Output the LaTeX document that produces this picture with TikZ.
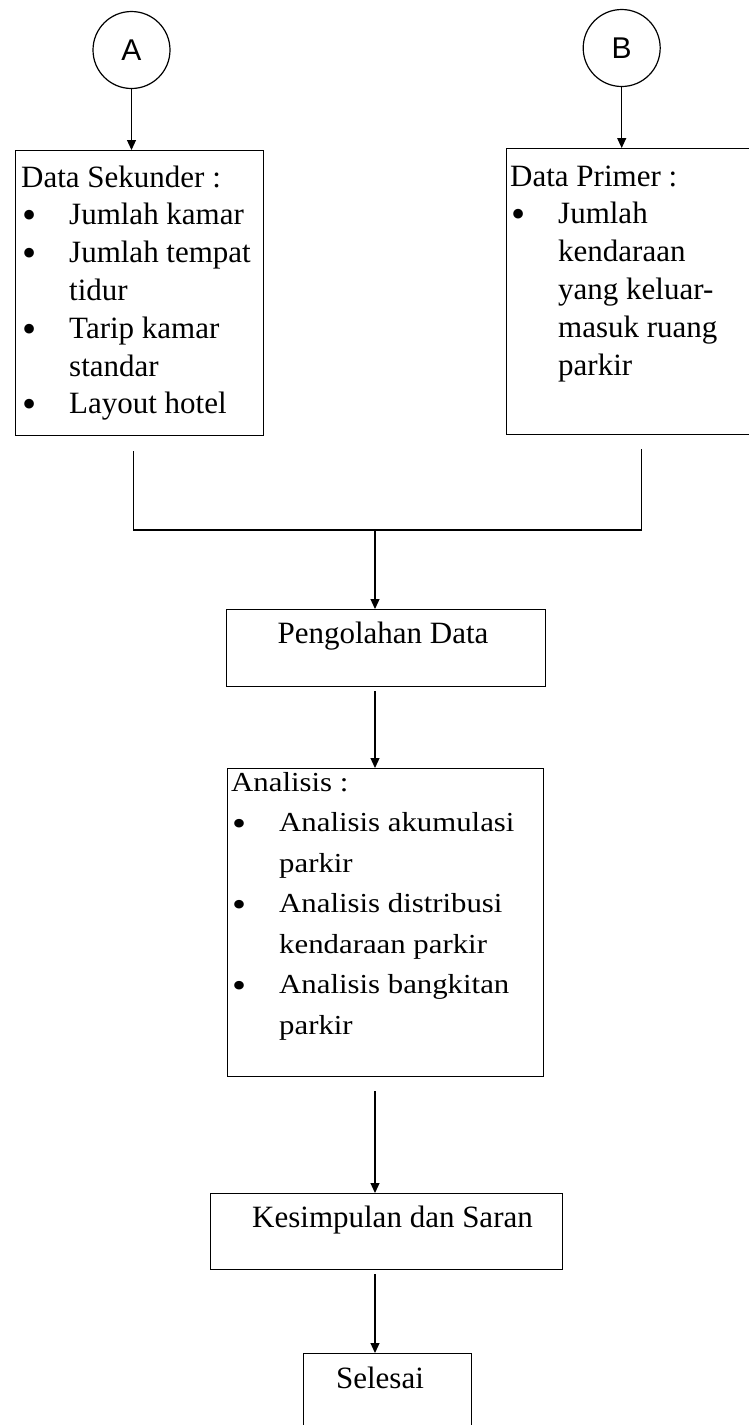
\documentclass[tikz,border=0pt]{standalone}
\usepackage{fontspec}
\setmainfont{Liberation Serif}
\newfontfamily\handfont{Liberation Sans}
\newfontfamily\anafont[FakeStretch=1.12]{Liberation Serif}
\usepackage{tikz}
\usetikzlibrary{positioning}
\usetikzlibrary{arrows.meta}
\tikzset{edge/.style = {-{Triangle[length=10pt,width=9pt]}, line width=1.2pt}}
\newcommand{\itm}{\makebox[48pt][l]{\hspace{1pt}\raisebox{-0.12em}{\scalebox{1.3}{\textbullet}}}}
\newcommand{\cnt}{\hspace*{48pt}}

\begin{document}
\begin{tikzpicture}[x=1pt,y=-1pt,
    every node/.style={font=\fontsize{31}{37.8}\selectfont},
    box/.style={draw,line width=1.3pt,inner sep=0pt,anchor=north west},
    txt/.style={anchor=north west,inner sep=0pt,align=left},
    lbl/.style={anchor=base,inner sep=0pt},
    conn node/.style={circle,draw,line width=1.2pt,minimum size=77pt,inner sep=0pt,font=\handfont\fontsize{30}{36}\selectfont}]
                \useasboundingbox (0,0) rectangle (749,1425);

                % penghubung
                \node[conn node] (A) at (131.5,50) {A};
                \node[conn node] (B) at (621.7,48) {B};

                % kotak
                \node[box, minimum width=248pt, minimum height=285pt] (sek) at (15,150) {};
                \node[box, minimum width=270pt, minimum height=286pt] (pri) at (506,148) {};
                \node[box, minimum width=319pt, minimum height=77pt] (olah) at (226,609) {};
                \node[box, minimum width=316pt, minimum height=308pt] (ana) at (227,768) {};
                \node[box, minimum width=352pt, minimum height=76pt] (kes) at (210,1193) {};
                \node[box, minimum width=168pt, minimum height=95pt] (sel) at (303,1353) {};

                % isi
                \node[txt] (sektxt) at (21,160.5) {\strut Data Sekunder :\\
                    \itm Jumlah kamar\\ \itm Jumlah tempat\\ \cnt tidur\\
                    \itm Tarip kamar\\ \cnt standar\\ \itm Layout hotel};
                \node[txt] (pritxt) at (510,159.5) {\strut Data Primer :\\
                    \itm Jumlah\\ \cnt kendaraan\\ \cnt yang keluar-\\
                    \cnt masuk ruang\\ \cnt parkir};
                \node[txt, font=\anafont\fontsize{27.5}{40.5}\selectfont] (anatxt) at (231,762.65) {\strut Analisis :\\
                    \itm Analisis akumulasi\\ \cnt parkir\\
                    \itm Analisis distribusi\\ \cnt kendaraan parkir\\
                    \itm Analisis bangkitan\\ \cnt parkir};
                \node[lbl] (olahtxt) at (383,643) {Pengolahan Data};
                \node[lbl] (kestxt) at (392.5,1227) {Kesimpulan dan Saran};
                \node[lbl] (seltxt) at (380,1388) {Selesai};

                % panah
                \coordinate (jm) at (375,530);
                \draw[edge] (A) -- (A |- sek.north);
                \draw[edge] (B) -- (B |- pri.north);
                \draw[line width=1.2pt] ([xshift=-6pt,yshift=-15pt]sek.south) |- (jm) -| ([yshift=-14pt]pri.south);
                \draw[edge] (jm) -- (jm |- olah.north);
                \draw[edge, shorten <=4pt] (jm |- olah.south) -- (jm |- ana.north);
                \draw[edge, shorten <=14pt] (jm |- ana.south) -- (jm |- kes.north);
                \draw[edge, shorten <=4pt] (jm |- kes.south) -- (jm |- sel.north);
            \end{tikzpicture}
\end{document}
